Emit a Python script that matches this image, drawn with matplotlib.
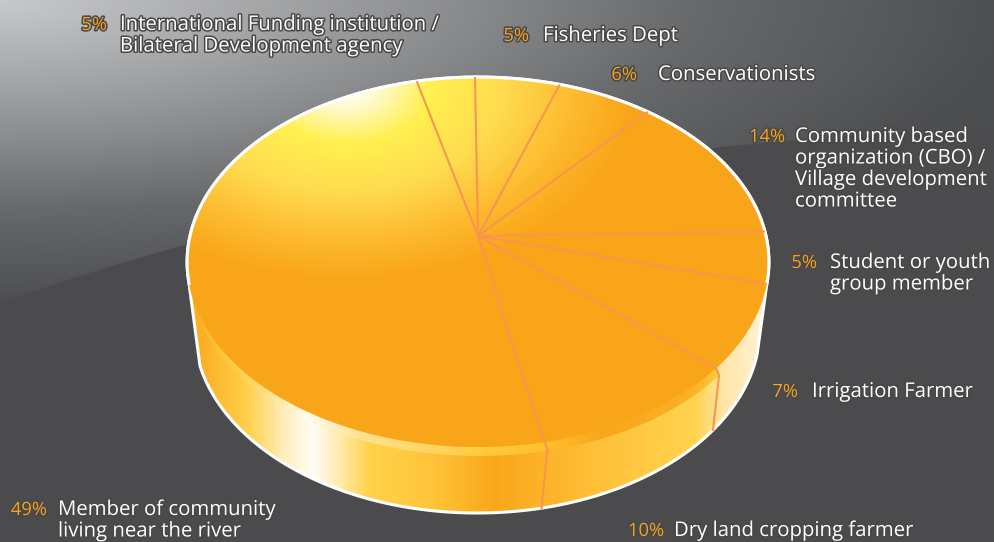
# plot.py
# Stakeholder pie with 3D look, pie drawn in pixel coordinates with a perspective tilt

import numpy as np
import matplotlib
matplotlib.use("Agg")
import matplotlib.pyplot as plt
import matplotlib.patheffects as pe
from matplotlib.colors import LinearSegmentedColormap
from matplotlib.patches import Polygon

# Data (clockwise from the top left slice)
categories = [
    "International Funding institution /\nBilateral Development agency",
    "Fisheries Dept",
    "Conservationists",
    "Community based\norganization (CBO) /\nVillage development\ncommittee",
    "Student or youth\ngroup member",
    "Irrigation Farmer",
    "Dry land cropping farmer",
    "Member of community\nliving near the river",
]
percent_labels = ["5%", "5%", "6%", "14%", "5%", "7%", "10%", "49%"]
# slice sizes as measured from the drawn angles (the drawing is not exact to its labels)
shares = [3.7, 5.4, 6.1, 13.3, 4.5, 7.4, 10.3, 49.3]

# Label anchors: right edge of percent, left edge of text, first line y
pct_right = [107, 529, 637, 785, 817, 798, 664, 47]
text_left = [120, 543, 658, 795, 830, 812, 674, 58]
label_y = [25, 36, 75, 137, 263, 392, 531, 510]
line_h = 21.5

plt.rcParams["font.family"] = ["Open Sans", "DejaVu Sans"]

W, H = 995, 542
ORANGE = "#faa61a"
SPOKE = "#f8964f"
DARK = "#4b4b4d"

# Pie geometry
apex_x, apex_y = 478, 236
rad_x, rad_y = 288, 181.3
persp = 0.1405
start_deg = -14
base_cy, base_a, base_b = 328, 283, 185
mid_dx, mid_dy = 3, 7


def project(theta):
    # theta clockwise from the top, circle tilted with a perspective divide
    x, y = np.sin(theta), np.cos(theta)
    d = 1 + persp * y
    return apex_x + rad_x * x / d, apex_y - rad_y * y / d


fig = plt.figure(figsize=(W / 100, H / 100), dpi=100)
ax = fig.add_axes([0, 0, 1, 1])
ax.set_xlim(0, W)
ax.set_ylim(H, 0)
ax.axis("off")

xx, yy = np.meshgrid(np.arange(W), np.arange(H))
extent = (0, W, H, 0)

# Background: dark with a lighter swoosh in the top left
ax.add_patch(plt.Rectangle((0, 0), W, H, color=DARK, zorder=0))
d = np.sqrt((xx / 1000) ** 2 + (yy / 300) ** 2)
grey = np.interp(d, [0, 0.45, 0.7, 1.0, 1.4], [200, 140, 103, 78, 75]) / 255
bg_rgb = np.dstack([grey, grey + 0.004, grey + 0.012])
bg = ax.imshow(np.clip(bg_rgb, 0, 1), extent=extent, aspect="auto", zorder=1)
t = np.linspace(0, 1, 60)
edge_x = 2 * t * (1 - t) * 430 + t ** 2 * W
edge_y = (1 - t) ** 2 * 303 + 2 * t * (1 - t) * 150 + t ** 2 * 128
swoosh = Polygon(np.column_stack([np.r_[edge_x, W, 0], np.r_[edge_y, 0, 0]]),
                 transform=ax.transData, fill=False, lw=0)
ax.add_patch(swoosh)
bg.set_clip_path(swoosh)

# Side wall
theta = np.linspace(0, 2 * np.pi, 720)
top_x, top_y = project(theta)
top_outline = np.column_stack([top_x, top_y])

right = np.arcsin((757 - 477) / base_a)
left = np.arcsin((477 - 200) / base_a)
phi = np.linspace(right, -left, 300)
base_x = 477 + base_a * np.sin(phi)
base_y = base_cy + base_b * np.cos(phi)
upper = top_outline[top_y < 275]
upper = upper[np.argsort(np.arctan2(upper[:, 0] - 477, 262 - upper[:, 1]))]
body = np.vstack([np.column_stack([base_x, base_y]), upper])

side_cmap = LinearSegmentedColormap.from_list(
    "side",
    [(x / W, c) for x, c in [(0, "#fbb024"), (200, "#fbb024"), (245, "#ffcf4a"),
                             (285, "#ffefc0"), (312, "#fffdf6"), (335, "#ffeeb8"),
                             (368, "#ffd24a"), (430, "#ffc53a"), (495, ORANGE),
                             (600, "#ffc13a"), (695, "#ffd34e"), (725, "#ffe7a8"),
                             (765, "#fff3d6"), (W, "#fff3d6")]])
side_im = ax.imshow(xx[:1] / W, cmap=side_cmap, vmin=0, vmax=1, extent=extent,
                    aspect="auto", zorder=2.1)
side_clip = Polygon(body, transform=ax.transData, fill=False, lw=0)
ax.add_patch(side_clip)
side_im.set_clip_path(side_clip)
ax.add_patch(Polygon(body, facecolor="none", edgecolor="white", lw=2.2, zorder=2.2))

# Bevel strip just under the top face
band_cmap = LinearSegmentedColormap.from_list(
    "band",
    [(x / W, c) for x, c in [(0, "#fbb024"), (190, "#fbb024"), (240, "#ffcf4a"),
                             (305, "#fffdf0"), (360, "#ffe290"), (480, "#ffcb40"),
                             (545, "#ffc030"), (600, ORANGE), (690, "#fcb024"),
                             (718, "#ffc83c"), (W, "#ffc83c")]])
band_im = ax.imshow(xx[:1] / W, cmap=band_cmap, vmin=0, vmax=1, extent=extent,
                    aspect="auto", zorder=2.3)
band_low = top_outline[(top_y > 275) & (top_x < 718)]
band_low = band_low[np.argsort(band_low[:, 0])]
taper = np.clip((band_low[:, 1] - 275) / 60, 0, 1)
band_poly = np.vstack([band_low,
                       np.column_stack([band_low[:, 0] + 1, band_low[:, 1] + 9 * taper])[::-1]])
band_clip = Polygon(band_poly, transform=ax.transData, fill=False, lw=0)
ax.add_patch(band_clip)
band_im.set_clip_path(band_clip)

# Top face
spot = np.sqrt(((xx - 345) / 285) ** 2 + ((yy - 85) / 192) ** 2)
top_cmap = LinearSegmentedColormap.from_list(
    "top",
    [(0, "#ffffff"), (0.1, "#fffbd8"), (0.3, "#fff04f"), (0.55, "#ffdc50"),
     (0.8, "#fdbb30"), (1.0, ORANGE)])
top_im = ax.imshow(np.clip(spot, 0, 1), cmap=top_cmap, vmin=0, vmax=1, extent=extent,
                   aspect="auto", zorder=3)
top_clip = Polygon(top_outline, transform=ax.transData, fill=False, lw=0)
ax.add_patch(top_clip)
top_im.set_clip_path(top_clip)
upper_edge = top_outline[top_y < 285]
upper_edge = upper_edge[np.argsort(np.arctan2(upper_edge[:, 0] - 477, 262 - upper_edge[:, 1]))]
ax.plot(upper_edge[:, 0], upper_edge[:, 1], color="white", lw=2.2, zorder=4)

# Slice lines from the shares
fractions = np.cumsum([0] + shares[:-1]) / np.sum(shares)
for frac in fractions:
    th = np.radians(start_deg) + 2 * np.pi * frac
    px, py = project(th)
    ax.plot([apex_x, px], [apex_y, py], color=SPOKE, lw=1.5, zorder=5,
            solid_capstyle="butt")
    # lines carry on down the wall only on the front of the pie
    if 120 < np.degrees(th) < 240:
        ex = px - 3
        ey = base_cy + base_b * np.sqrt(1 - ((ex - 477) / base_a) ** 2)
        ax.plot([px, px + mid_dx, ex], [py, py + mid_dy, ey], color=SPOKE, lw=1.5,
                zorder=5, solid_joinstyle="miter")

# Labels
outline = [pe.withStroke(linewidth=2.2, foreground="#48484a")]
for name, pct, xr, xl, y0 in zip(categories, percent_labels, pct_right, text_left, label_y):
    ax.text(xr, y0, pct, color="#f7a21b", fontsize=13.2, ha="right", va="center",
            path_effects=outline, zorder=6)
    for i, line in enumerate(name.split("\n")):
        ax.text(xl, y0 + i * line_h, line, color="white", fontsize=14.65, ha="left",
                va="center", path_effects=outline, zorder=6)

ax.set_xlim(0, W)
ax.set_ylim(H, 0)
fig.savefig("out.png", dpi=100)
plt.close(fig)
